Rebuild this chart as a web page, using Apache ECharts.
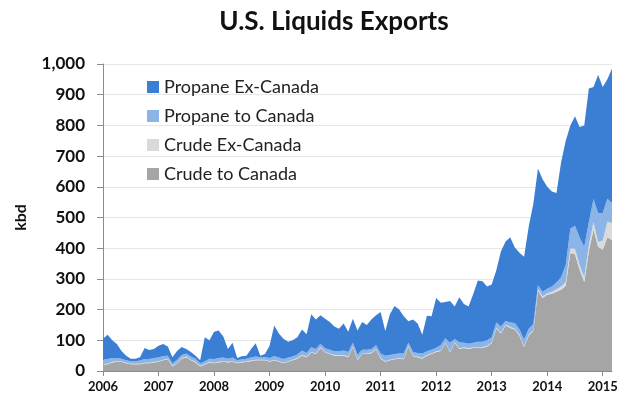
<!DOCTYPE html>
<html>
<head>
<meta charset="utf-8">
<script src="https://cdn.jsdelivr.net/npm/echarts@6/dist/echarts.min.js"></script>
<style>
html,body{margin:0;padding:0;background:#fff;}
#chart{width:624px;height:402px;}
</style>
</head>
<body>
<div id="chart"></div>
<script>
// Monthly categories Jan 2006 – Mar 2015
var months = [];
for (var y = 2006; y <= 2015; y++) {
  for (var m = 1; m <= 12; m++) {
    if (y === 2015 && m > 3) break;
    months.push(y + '-' + (m < 10 ? '0' + m : m));
  }
}

var seriesNames = ['Propane Ex-Canada', 'Propane to Canada', 'Crude Ex-Canada', 'Crude to Canada'];
var yTicks = [0, 100, 200, 300, 400, 500, 600, 700, 800, 900, 1000];

var crudeToCanada = [
  20,22,28,30,30,25,22,22,22,25,25,28,
  30,35,38,15,25,40,45,35,28,15,20,28,
  25,28,30,28,30,25,28,30,32,35,35,35,
  30,35,30,25,30,35,40,50,45,60,55,75,
  60,55,50,50,50,45,78,36,55,55,58,70,
  40,30,35,38,40,38,80,48,45,40,50,55,
  62,65,90,60,92,72,75,72,75,75,75,80,
  90,138,122,148,140,135,115,78,115,130,262,238,
  248,252,258,265,278,384,380,330,290,390,460,405,
  395,436,427
];

var crudeExCanada = [
  2,2,2,2,2,2,2,2,2,2,2,2,
  2,2,2,2,2,2,2,2,2,2,2,2,
  2,2,2,2,2,2,2,2,2,2,2,2,
  2,2,2,2,2,2,2,2,2,2,2,2,
  2,2,2,2,2,2,2,2,2,2,2,2,
  2,2,2,2,2,2,2,2,2,2,2,2,
  2,2,2,2,2,2,2,2,2,2,2,2,
  3,3,3,3,3,3,3,3,3,3,5,5,
  5,5,8,10,12,15,18,15,15,20,25,15,
  30,50,55
];

var propaneToCanada = [
  15,15,12,10,8,8,8,8,10,12,12,12,
  12,12,10,8,10,10,10,10,10,8,10,10,
  12,12,12,10,12,8,8,8,10,10,8,8,
  10,12,12,12,12,10,12,15,12,15,15,12,
  12,12,12,12,15,15,12,15,12,12,12,12,
  15,18,15,15,15,18,10,12,12,15,12,12,
  12,18,15,30,10,20,15,15,15,18,18,18,
  17,17,20,12,15,18,18,22,20,20,12,15,
  15,18,22,30,55,65,75,90,100,75,75,95,
  90,75,65
];

var propaneExCanada = [
  68,79,58,46,25,15,8,8,11,36,29,30,
  38,39,30,20,28,26,15,15,10,10,78,60,
  89,90,68,32,48,7,10,10,28,43,5,10,
  40,99,78,66,51,53,56,68,61,108,96,93,
  96,91,81,74,88,66,78,79,91,81,96,98,
  135,80,133,157,143,120,70,106,96,61,116,109,
  162,137,118,136,106,146,126,121,158,200,197,175,
  172,170,245,259,278,246,249,269,332,392,381,367,
  332,310,292,375,405,336,357,360,395,435,365,450,
  410,389,438
];

var colors = {
  'Crude to Canada': '#a5a5a5',
  'Crude Ex-Canada': '#dadada',
  'Propane to Canada': '#8cb4e6',
  'Propane Ex-Canada': '#3b7fd4'
};

function areaSeries(name, data) {
  return {
    name: name,
    type: 'line',
    stack: 'total',
    data: data,
    symbol: 'none',
    showSymbol: false,
    smooth: false,
    lineStyle: { width: 0 },
    itemStyle: { color: colors[name] },
    areaStyle: { color: colors[name], opacity: 1 }
  };
}

var chart = echarts.init(document.getElementById('chart'), null, { renderer: 'canvas' });
var FONT = 'Lato, "Open Sans", sans-serif';

chart.setOption({
  backgroundColor: '#ffffff',
  animation: false,
  title: {
    text: 'U.S. Liquids Exports',
    left: 329,
    textAlign: 'center',
    top: 4,
    textStyle: { fontFamily: FONT, fontSize: 26, fontWeight: 'bold', color: '#111' }
  },
  legend: {
    data: seriesNames,
    orient: 'vertical',
    left: 142,
    top: 73,
    itemGap: 11,
    itemWidth: 12,
    itemHeight: 12,
    icon: 'rect',
    textStyle: { fontFamily: FONT, fontSize: 18, color: '#222' }
  },
  grid: { left: 103, right: 12, top: 64, bottom: 31 },
  xAxis: {
    type: 'category',
    data: months,
    boundaryGap: false,
    axisLine: { lineStyle: { color: '#8c8c8c', width: 1 } },
    axisTick: {
      show: true,
      length: 5,
      interval: function (i) { return i % 12 === 0; },
      lineStyle: { color: '#8c8c8c' }
    },
    axisLabel: {
      interval: function (i) { return i % 12 === 0; },
      formatter: function (v) { return v.slice(0, 4); },
      fontFamily: FONT,
      fontSize: 13,
      fontWeight: 'bold',
      color: '#111',
      margin: 9
    },
    splitLine: { show: false }
  },
  yAxis: {
    type: 'value',
    name: 'kbd',
    nameLocation: 'middle',
    nameGap: 74,
    nameRotate: 90,
    nameTextStyle: { fontFamily: FONT, fontSize: 16, fontWeight: 'bold', color: '#111' },
    min: yTicks[0],
    max: yTicks[yTicks.length - 1],
    interval: 100,
    axisLine: { show: true, lineStyle: { color: '#8c8c8c', width: 1 } },
    axisTick: { show: true, length: 6, lineStyle: { color: '#8c8c8c' } },
    axisLabel: {
      formatter: function (v) { return v.toLocaleString('en-US'); },
      fontFamily: FONT,
      fontSize: 17,
      fontWeight: 'bold',
      color: '#111',
      margin: 18
    },
    splitLine: { show: true, lineStyle: { color: '#e6e6e6', width: 1 } }
  },
  series: [
    areaSeries('Crude to Canada', crudeToCanada),
    areaSeries('Crude Ex-Canada', crudeExCanada),
    areaSeries('Propane to Canada', propaneToCanada),
    areaSeries('Propane Ex-Canada', propaneExCanada)
  ]
});
</script>
</body>
</html>
